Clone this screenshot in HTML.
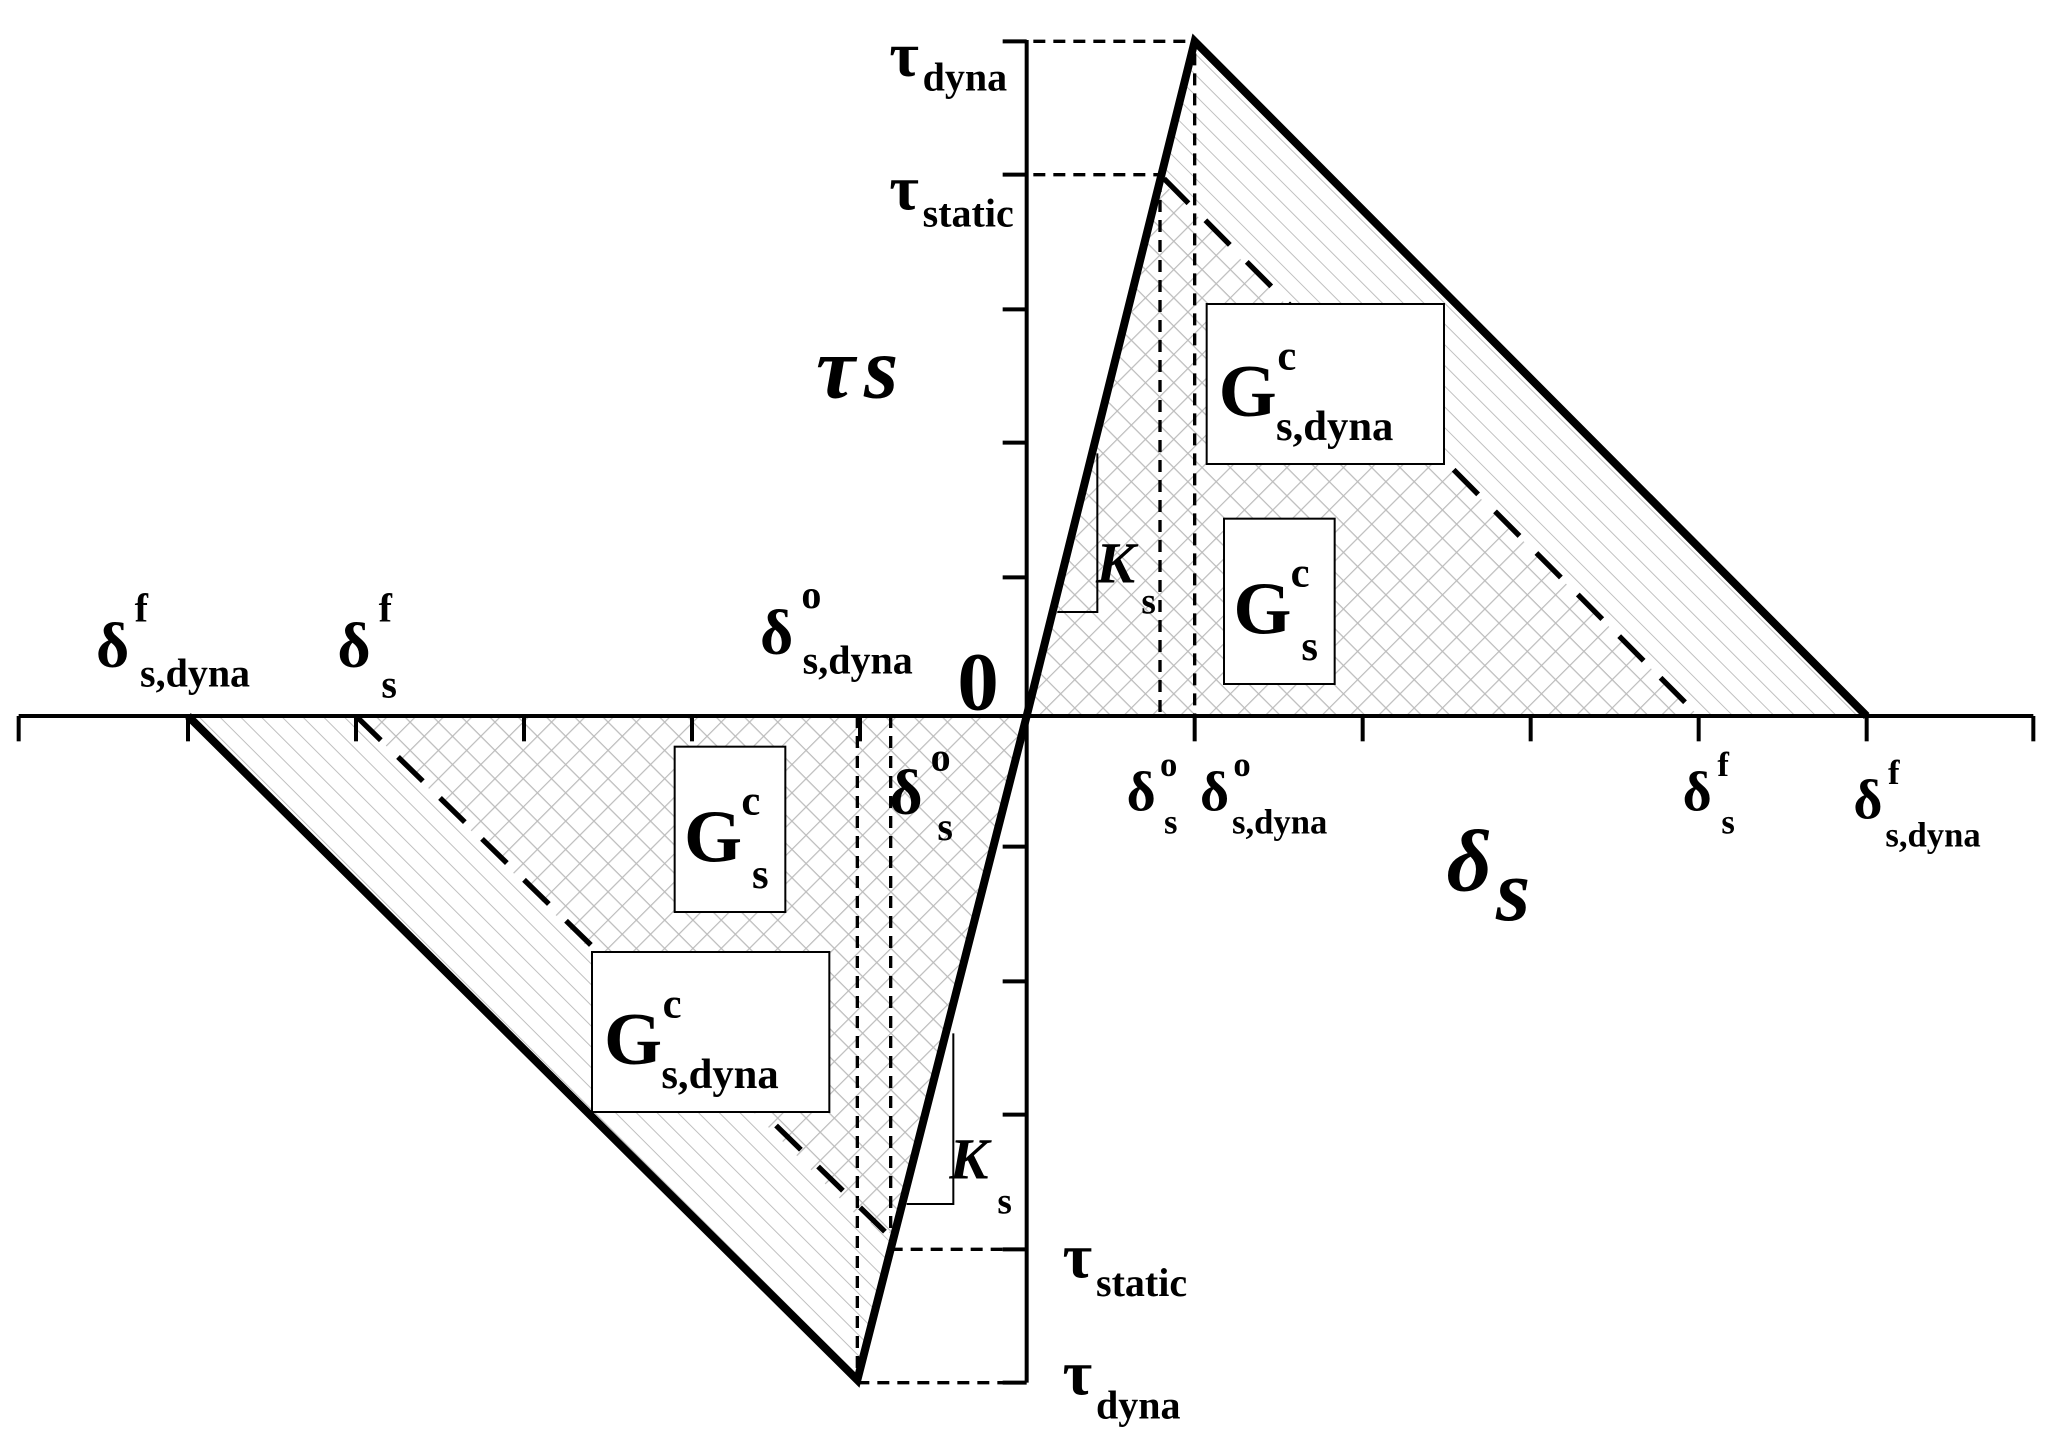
<!DOCTYPE html>
<html><head><meta charset="utf-8"><style>
html,body{margin:0;padding:0;background:#fff;}
svg{display:block;}
text{font-family:"Liberation Serif",serif;font-weight:bold;fill:#000;}
</style></head><body>
<svg width="2064" height="1440" viewBox="0 0 1548 1080" xmlns="http://www.w3.org/2000/svg">
<defs>
<pattern id="d1" patternUnits="userSpaceOnUse" width="11" height="11" patternTransform="rotate(-45)">
<line x1="0" y1="0" x2="0" y2="11" stroke="#bcbcbc" stroke-width="1.4"/>
</pattern>
<pattern id="x1" patternUnits="userSpaceOnUse" width="15" height="15" patternTransform="rotate(45)">
<line x1="0" y1="0" x2="0" y2="15" stroke="#bcbcbc" stroke-width="1.8"/>
<line x1="0" y1="0" x2="15" y2="0" stroke="#bcbcbc" stroke-width="1.8"/>
</pattern>
</defs>
<polygon points="770,537 896,31 1400,537" fill="url(#d1)"/>
<polygon points="770,537 643,1035 141,537" fill="url(#d1)"/>
<polygon points="770,537 870,135 896,160 1274,537" fill="#fff"/>
<polygon points="770,537 668,925 643,912 267,537" fill="#fff"/>
<polygon points="770,537 870,135 896,160 1274,537" fill="url(#x1)"/>
<polygon points="770,537 668,925 643,912 267,537" fill="url(#x1)"/>
<g stroke="#000" fill="none">
<line x1="14" y1="537" x2="1525" y2="537" stroke-width="3"/>
<line x1="770" y1="30" x2="770" y2="1037" stroke-width="3"/>
<g stroke-width="3">
<line x1="14" y1="537" x2="14" y2="556"/><line x1="141" y1="537" x2="141" y2="556"/><line x1="267" y1="537" x2="267" y2="556"/><line x1="393" y1="537" x2="393" y2="556"/><line x1="519" y1="537" x2="519" y2="556"/><line x1="645" y1="537" x2="645" y2="556"/><line x1="896" y1="537" x2="896" y2="556"/><line x1="1022" y1="537" x2="1022" y2="556"/><line x1="1148" y1="537" x2="1148" y2="556"/><line x1="1274" y1="537" x2="1274" y2="556"/><line x1="1400" y1="537" x2="1400" y2="556"/><line x1="1525" y1="537" x2="1525" y2="556"/>
<line x1="752" y1="31" x2="770" y2="31"/><line x1="752" y1="131" x2="770" y2="131"/><line x1="752" y1="232" x2="770" y2="232"/><line x1="752" y1="332" x2="770" y2="332"/><line x1="752" y1="433" x2="770" y2="433"/><line x1="752" y1="635" x2="770" y2="635"/><line x1="752" y1="736" x2="770" y2="736"/><line x1="752" y1="836" x2="770" y2="836"/><line x1="752" y1="937" x2="770" y2="937"/><line x1="752" y1="1037" x2="770" y2="1037"/>
</g>
<g stroke-width="2.5" stroke-dasharray="9,6">
<line x1="775" y1="31" x2="896" y2="31"/><line x1="775" y1="131" x2="870" y2="131"/>
<line x1="870" y1="135" x2="870" y2="537"/><line x1="896" y1="40" x2="896" y2="537"/>
<line x1="643" y1="537" x2="643" y2="1030"/><line x1="668" y1="537" x2="668" y2="925"/>
<line x1="668" y1="937" x2="765" y2="937"/><line x1="643" y1="1037" x2="765" y2="1037"/>
</g>
<g stroke-width="4" stroke-dasharray="26,18">
<line x1="873" y1="134" x2="1274" y2="537"/>
<line x1="267" y1="537" x2="665" y2="925"/>
</g>
<polyline points="1400,537 896,31 770,537 643,1035 141,537" stroke-width="6" stroke-linejoin="miter"/>
<polyline points="793,459 823,459 823,340" stroke-width="1.5"/>
<polyline points="680,903 715,903 715,775" stroke-width="1.5"/>
</g>
<g fill="#fff" stroke="#000" stroke-width="1.5">
<rect x="905" y="228" width="178" height="120"/>
<rect x="918" y="389" width="83" height="124"/>
<rect x="506" y="560" width="83" height="124"/>
<rect x="444" y="714" width="178" height="120"/>
</g>
<g font-size="56">
<text x="914" y="312">G</text><text x="958" y="277" font-size="32">c</text><text x="957" y="330" font-size="32">s,dyna</text>
<text x="925" y="475">G</text><text x="968" y="440" font-size="32">c</text><text x="976" y="495" font-size="32">s</text>
<text x="513" y="646">G</text><text x="556" y="611" font-size="32">c</text><text x="564" y="666" font-size="32">s</text>
<text x="453" y="798">G</text><text x="497" y="763" font-size="32">c</text><text x="496" y="816" font-size="32">s,dyna</text>
</g>
<g font-size="48">
<text x="667" y="57">τ</text><text x="692" y="68" font-size="30">dyna</text>
<text x="667" y="157">τ</text><text x="692" y="170" font-size="30">static</text>
<text x="797" y="958">τ</text><text x="822" y="972" font-size="30">static</text>
<text x="797" y="1046">τ</text><text x="822" y="1064" font-size="30">dyna</text>
<text x="612" y="298" font-size="66" font-style="italic">τ</text><text x="648" y="298" font-size="66" font-style="italic">s</text>
<text x="1085" y="668" font-size="66" font-style="italic">δ</text><text x="1122" y="690" font-size="66" font-style="italic">s</text>
<text x="718" y="532" font-size="62">0</text>
<text x="72" y="500">δ</text><text x="101" y="466" font-size="30">f</text><text x="105" y="515" font-size="30">s,dyna</text>
<text x="253" y="500">δ</text><text x="284" y="466" font-size="30">f</text><text x="286" y="523" font-size="30">s</text>
<text x="570" y="490">δ</text><text x="601" y="456" font-size="30">o</text><text x="602" y="505" font-size="30">s,dyna</text>
<text x="667" y="610">δ</text><text x="698" y="578" font-size="30">o</text><text x="703" y="630" font-size="30">s</text>
<text x="845" y="608" font-size="42">δ</text><text x="870" y="582" font-size="26">o</text><text x="873" y="625" font-size="26">s</text>
<text x="900" y="608" font-size="42">δ</text><text x="925" y="582" font-size="26">o</text><text x="924" y="625" font-size="26">s,dyna</text>
<text x="1262" y="608" font-size="42">δ</text><text x="1288" y="582" font-size="26">f</text><text x="1291" y="625" font-size="26">s</text>
<text x="1390" y="614" font-size="42">δ</text><text x="1416" y="588" font-size="26">f</text><text x="1414" y="635" font-size="26">s,dyna</text>
<text x="822" y="437" font-size="44" font-style="italic">K</text><text x="856" y="460" font-size="28">s</text>
<text x="712" y="884" font-size="44" font-style="italic">K</text><text x="748" y="910" font-size="28">s</text>
</g>
</svg>
</body></html>
